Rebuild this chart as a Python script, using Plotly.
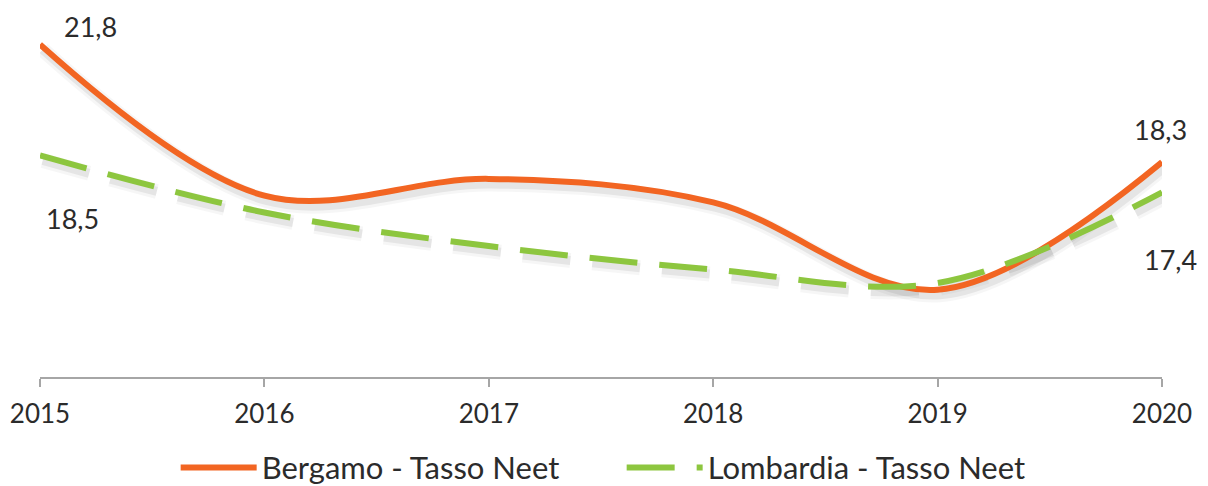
import plotly.graph_objects as go

years = [2015, 2016, 2017, 2018, 2019, 2020]
bergamo = [21.8, 17.3, 17.8, 17.1, 14.5, 18.3]
lombardia = [18.5, 16.8, 15.8, 15.1, 14.7, 17.4]
name_bg = "Bergamo - Tasso Neet"
name_lo = "Lombardia - Tasso Neet"

ORANGE = "#F26522"
GREEN = "#8DC63F"
FONT = "Lato"
TEXT = "#2b2b2b"

fig = go.Figure()

# soft drop shadows (offset a few px below the lines)
shadow_off = 0.15
for series, dash in [(lombardia, "48px,22px"), (bergamo, "solid")]:
    for w, a in [(15, 0.035), (9, 0.065)]:
        fig.add_trace(go.Scatter(
            x=[y + 0.012 for y in years], y=[v - shadow_off for v in series],
            mode="lines", line=dict(color=f"rgba(0,0,0,{a})", width=w, shape="spline", smoothing=1, dash=dash),
            showlegend=False, hoverinfo="skip"))

fig.add_trace(go.Scatter(
    x=years, y=bergamo, name=name_bg, mode="lines",
    line=dict(color=ORANGE, width=6, shape="spline", smoothing=1)))
fig.add_trace(go.Scatter(
    x=years, y=lombardia, name=name_lo, mode="lines",
    line=dict(color=GREEN, width=6, shape="spline", smoothing=1, dash="48px,22px")))

def fmt(v):
    return f"{v:.1f}".replace(".", ",")

labels = [
    (years[0], bergamo[0], 50, 18),
    (years[0], lombardia[0], 32, -63),
    (years[-1], bergamo[-1], -2, 33),
    (years[-1], lombardia[-1], 8, -67),
]
for x, y, xs, ys in labels:
    fig.add_annotation(x=x, y=y, text=fmt(y), showarrow=False, xshift=xs, yshift=ys,
                       font=dict(family=FONT, size=27, color=TEXT))

fig.update_layout(
    width=1208, height=486,
    margin=dict(l=32, r=54, t=3, b=117, autoexpand=False),
    paper_bgcolor="white", plot_bgcolor="white",
    font=dict(family=FONT, size=26, color=TEXT),
    showlegend=True,
    legend=dict(orientation="h", x=0.508, xanchor="center", xref="container",
                y=0.054, yanchor="middle", yref="container",
                font=dict(size=31, color=TEXT), itemwidth=76, entrywidth=355,
                traceorder="normal"),
    xaxis=dict(range=[2015, 2020], tickvals=years, ticktext=[str(y) for y in years],
               showgrid=False, zeroline=False, showline=True, linecolor="#A6A6A6", linewidth=2,
               ticks="outside", ticklen=8, tickwidth=2, tickcolor="#A6A6A6",
               ticklabelstandoff=5, tickfont=dict(size=26, color=TEXT)),
    yaxis=dict(range=[11.9, 22.8], visible=False, showgrid=False, zeroline=False),
)

fig.write_html("out.html")
